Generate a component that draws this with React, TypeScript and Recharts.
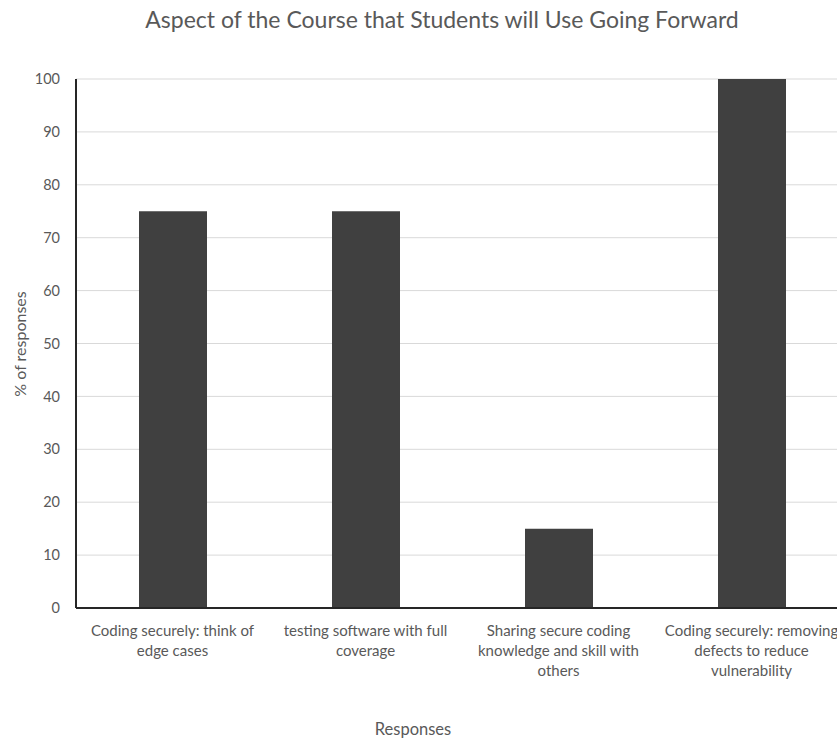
import { BarChart, Bar, XAxis, YAxis, CartesianGrid } from "recharts";

// categories (line breaks as drawn in the reference)
const categories = [
  "Coding securely: think of\nedge cases",
  "testing software with full\ncoverage",
  "Sharing secure coding\nknowledge and skill with\nothers",
  "Coding securely: removing\ndefects to reduce\nvulnerability",
];
const responses = [75, 75, 15, 100];
const yTicks = [0, 10, 20, 30, 40, 50, 60, 70, 80, 90, 100];

const data = categories.map((name, i) => ({ name, value: responses[i] }));

const FONT = "Lato, 'Noto Sans', sans-serif";
const GREY = "#595959";

const WrappedTick = (props: any) => {
  const { x, y, payload } = props;
  const lines = String(payload.value).split("\n");
  return (
    <g transform={`translate(${x},${y})`}>
      {lines.map((line: string, i: number) => (
        <text
          key={i}
          x={0}
          y={i * 20}
          dy={20}
          textAnchor="middle"
          fill={GREY}
          fontSize={15}
          fontFamily={FONT}
        >
          {line}
        </text>
      ))}
    </g>
  );
};

export default function App() {
  return (
    <div
      style={{
        position: "absolute",
        left: 0,
        top: 0,
        width: 837,
        height: 740,
        overflow: "hidden",
        background: "#fff",
        fontFamily: FONT,
      }}
    >
      <div
        style={{
          position: "absolute",
          top: 5,
          left: 442,
          transform: "translateX(-50%)",
          whiteSpace: "nowrap",
          fontSize: 23,
          color: GREY,
        }}
      >
        Aspect of the Course that Students will Use Going Forward
      </div>
      <div
        style={{
          position: "absolute",
          left: 19,
          top: 344,
          transform: "translate(-50%, -50%) rotate(-90deg)",
          whiteSpace: "nowrap",
          fontSize: 16,
          color: GREY,
        }}
      >
        % of responses
      </div>
      <div
        style={{
          position: "absolute",
          top: 719,
          left: 413,
          transform: "translateX(-50%)",
          whiteSpace: "nowrap",
          fontSize: 16.5,
          color: GREY,
        }}
      >
        Responses
      </div>
      <BarChart
        width={848}
        height={740}
        data={data}
        margin={{ top: 79, right: 0, left: 0, bottom: 0 }}
        style={{ position: "absolute", left: 0, top: 0 }}
      >
        <CartesianGrid vertical={false} stroke="#d9d9d9" strokeWidth={1} />
        <XAxis
          dataKey="name"
          height={132}
          interval={0}
          tickLine={false}
          axisLine={{ stroke: "#262626", strokeWidth: 2 }}
          tick={<WrappedTick />}
        />
        <YAxis
          width={76}
          domain={[0, 100]}
          ticks={yTicks}
          interval={0}
          tickLine={false}
          tickMargin={10}
          axisLine={{ stroke: "#262626", strokeWidth: 2 }}
          tick={{ fill: GREY, fontSize: 14.5, fontFamily: FONT }}
        />
        <Bar dataKey="value" fill="#404040" barSize={68} isAnimationActive={false} />
      </BarChart>
    </div>
  );
}
